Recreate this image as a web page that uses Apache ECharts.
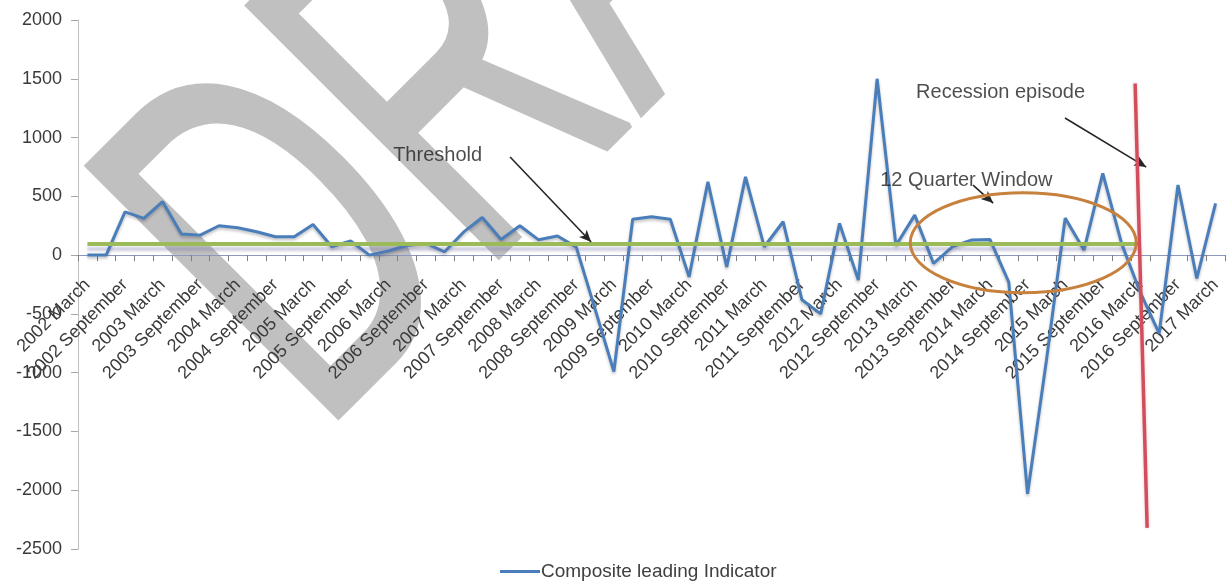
<!DOCTYPE html>
<html>
<head>
<meta charset="utf-8">
<script src="https://cdn.jsdelivr.net/npm/echarts@6/dist/echarts.min.js"></script>
<style>
html,body{margin:0;padding:0;background:#fff;}
#chart{width:1228px;height:581px;}
</style>
</head>
<body>
<div id="chart"></div>
<script>
// ---- data ----
const categories = [
  '2002 March','2002 June','2002 September','2002 December',
  '2003 March','2003 June','2003 September','2003 December',
  '2004 March','2004 June','2004 September','2004 December',
  '2005 March','2005 June','2005 September','2005 December',
  '2006 March','2006 June','2006 September','2006 December',
  '2007 March','2007 June','2007 September','2007 December',
  '2008 March','2008 June','2008 September','2008 December',
  '2009 March','2009 June','2009 September','2009 December',
  '2010 March','2010 June','2010 September','2010 December',
  '2011 March','2011 June','2011 September','2011 December',
  '2012 March','2012 June','2012 September','2012 December',
  '2013 March','2013 June','2013 September','2013 December',
  '2014 March','2014 June','2014 September','2014 December',
  '2015 March','2015 June','2015 September','2015 December',
  '2016 March','2016 June','2016 September','2016 December',
  '2017 March'
];
const compositeLeading = [
  0, 0, 368, 312, 454, 179, 170, 250, 233, 199,
  156, 156, 261, 71, 120, 0, 35, 82, 99, 28,
  195, 320, 133, 250, 130, 163, 68, -460, -990, 306,
  326, 305, -185, 624, -100, 666, 71, 284, -380, -500,
  270, -213, 1500, 82, 340, -71, 71, 128, 133, -230,
  -2030, -900, 315, 43, 695, 100, -320, -666, 596, -199,
  440
];
const yTicks = [-2500, -2000, -1500, -1000, -500, 0, 500, 1000, 1500, 2000];
const thresholdValue = 100;
const thresholdStart = '2002 March';
const thresholdEnd = '2016 March';
// recession line: [category position, value]
const recessionLine = [[55.72, 1460], [56.36, -2320]];
// 12 quarter window ellipse: [centre pos, centre value, radius (quarters), radius (value)]
const windowEllipse = [[49.77, 105, 6.01, 425]];
// annotation arrows: [[from pos, from value], [to pos, to value]]
const arrows = [
  [[22.48, 834], [26.79, 111]],
  [[51.99, 1166], [56.31, 749]],
  [[47.10, 596], [48.17, 443]]
];
const annotations = [
  {name: 'Threshold', value: [16.26, 851]},
  {name: 'Recession episode', value: [44.07, 1387]},
  {name: '12 Quarter Window', value: [42.16, 638]}
];
const watermarkText = 'DRAFT';

const GRID = {left: 78, right: 3, top: 20, bottom: 32};
const CHART_H = 581;
const yMin = yTicks[0], yMax = yTicks[yTicks.length - 1];
// category axis sits on the zero line: shift it up from the grid bottom
const plotH = CHART_H - GRID.top - GRID.bottom;
const zeroOffset = -plotH * (0 - yMin) / (yMax - yMin);

const chart = echarts.init(document.getElementById('chart'), null, {renderer: 'canvas'});
const FONT = '"Liberation Sans", Arial, sans-serif';
const option = {
  animation: false,
  backgroundColor: '#ffffff',
  graphic: {
    elements: [{
      type: 'text',
      z: -10,
      x: 219, y: 335,
      rotation: Math.PI / 4,
      scaleX: 0.61, scaleY: 1,
      silent: true,
      style: {
        text: watermarkText,
        font: 'normal 515px ' + FONT,
        fill: '#c0c0c0',
        stroke: '#c0c0c0',
        lineWidth: 6,
        align: 'left',
        verticalAlign: 'middle'
      }
    }]
  },
  grid: Object.assign({containLabel: false, outerBoundsMode: 'none'}, GRID),
  legend: {
    data: [{name: 'Composite leading Indicator', icon: 'rect'}],
    left: 495, top: 557,
    itemWidth: 40, itemHeight: 3, itemGap: 4,
    textStyle: {fontFamily: FONT, fontSize: 19, color: '#404040', padding: [0, 0, 0, -4]},
    selectedMode: false
  },
  xAxis: [{
    type: 'category',
    data: categories,
    boundaryGap: true,
    position: 'bottom',
    offset: zeroOffset,
    axisLine: {onZero: false, lineStyle: {color: '#8d98c0', width: 1}},
    axisTick: {show: true, interval: 0, length: 6, lineStyle: {color: '#7f7f7f'}},
    axisLabel: {interval: 1, rotate: 45, margin: 27, fontFamily: FONT, fontSize: 18, color: '#3a3a3a'},
    splitLine: {show: false}
  }, {
    type: 'value', min: -0.5, max: 60.5, show: false,
    axisLine: {onZero: false}
  }],
  yAxis: [{
    type: 'value',
    min: yMin, max: yMax, interval: 500,
    axisLine: {show: true, onZero: false, lineStyle: {color: '#bfbfbf'}},
    axisTick: {show: true, length: 7, lineStyle: {color: '#a6a6a6'}},
    axisLabel: {margin: 16, fontFamily: FONT, fontSize: 18, color: '#3a3a3a', formatter: v => String(v)},
    splitLine: {show: false}
  }],
  series: [{
    name: 'Composite leading Indicator',
    type: 'line',
    data: compositeLeading,
    symbol: 'none',
    z: 4,
    lineStyle: {color: '#4a7ebb', width: 3, shadowColor: 'rgba(0,0,0,0.25)', shadowBlur: 3, shadowOffsetY: 2},
    itemStyle: {color: '#4a7ebb'},
    markLine: {
      silent: true, symbol: ['none', 'none'], label: {show: false},
      lineStyle: {color: '#9bbb59', width: 4, type: 'solid', shadowColor: 'rgba(110,110,170,0.35)', shadowBlur: 3, shadowOffsetY: 5},
      data: [[{coord: [thresholdStart, thresholdValue]}, {coord: [thresholdEnd, thresholdValue]}]]
    }
  }, {
    name: 'Recession',
    type: 'line',
    xAxisIndex: 1,
    data: recessionLine,
    symbol: 'none',
    z: 5,
    lineStyle: {color: '#d14f5c', width: 3.5, shadowColor: 'rgba(207,79,90,0.35)', shadowBlur: 3}
  }, {
    name: 'Window',
    type: 'custom',
    xAxisIndex: 1,
    data: windowEllipse,
    z: 5,
    renderItem: function (params, api) {
      const c = api.coord([api.value(0), api.value(1)]);
      const s = api.size([api.value(2), api.value(3)]);
      return {
        type: 'ellipse',
        shape: {cx: c[0], cy: c[1], rx: s[0], ry: s[1]},
        style: {fill: 'none', stroke: '#c8803d', lineWidth: 3}
      };
    }
  }, {
    name: 'Arrows',
    type: 'line',
    xAxisIndex: 1,
    data: [],
    z: 6,
    markLine: {
      silent: true,
      symbol: ['none', 'arrow'], symbolSize: [8, 12],
      label: {show: false},
      lineStyle: {color: '#262626', width: 1.6, type: 'solid'},
      data: arrows.map(a => [{coord: a[0]}, {coord: a[1]}])
    }
  }, {
    name: 'Labels',
    type: 'scatter',
    xAxisIndex: 1,
    data: annotations,
    symbolSize: 0,
    z: 6,
    label: {show: true, position: 'right', distance: 0, formatter: '{b}', fontFamily: FONT, fontSize: 20, color: '#1f1f1f'}
  }]
};
chart.setOption(option);
</script>
</body>
</html>
